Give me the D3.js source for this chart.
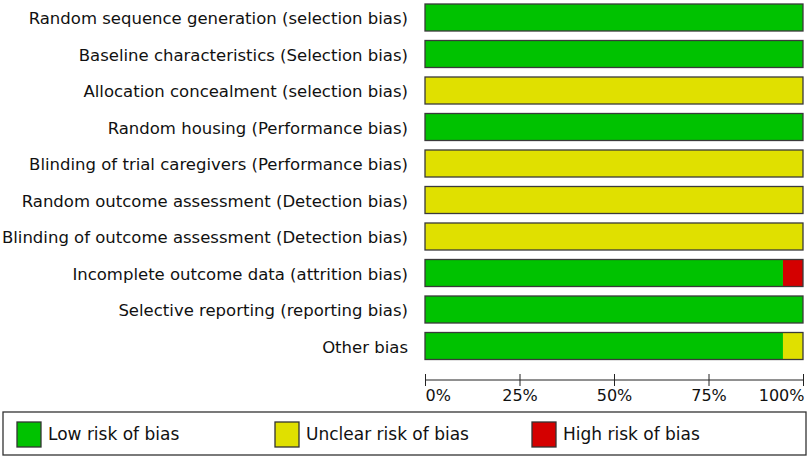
<!DOCTYPE html>
<html>
<head>
<meta charset="utf-8">
<script src="https://cdn.jsdelivr.net/npm/d3@7"></script>
<style>
  body { margin: 0; background: #fff; }
  text { font-family: "DejaVu Sans", sans-serif; fill: #111; }
</style>
</head>
<body>
<svg></svg>
<script>
const categories = [
  'Random sequence generation (selection bias)',
  'Baseline characteristics (Selection bias)',
  'Allocation concealment (selection bias)',
  'Random housing (Performance bias)',
  'Blinding of trial caregivers (Performance bias)',
  'Random outcome assessment (Detection bias)',
  'Blinding of outcome assessment (Detection bias)',
  'Incomplete outcome data (attrition bias)',
  'Selective reporting (reporting bias)',
  'Other bias'
];
const lowRisk     = [100, 100, 0, 100, 0, 0, 0, 94.7, 100, 94.7];
const unclearRisk = [0, 0, 100, 0, 100, 100, 100, 0, 0, 5.3];
const highRisk    = [0, 0, 0, 0, 0, 0, 0, 5.3, 0, 0];
const tickValues  = [0, 25, 50, 75, 100];
const legendNames = ['Low risk of bias', 'Unclear risk of bias', 'High risk of bias'];

const run = () => {
  const width = 809, height = 460;
  const svg = d3.select('svg').attr('width', width).attr('height', height);

  const colors = ['#00c200', '#e0e000', '#d40000'];
  const series = [lowRisk, unclearRisk, highRisk];

  const x = d3.scaleLinear().domain([0, 100]).range([425, 803]);
  const y = d3.scaleBand()
    .domain(categories)
    .range([-0.75, 364.25])
    .paddingInner(0.26)
    .paddingOuter(0.13);

  // stacked segments per row
  const rows = categories.map((c, i) => {
    let acc = 0;
    return series.map((s, k) => {
      const seg = { cat: c, k, x0: acc, x1: acc + s[i] };
      acc += s[i];
      return seg;
    }).filter(d => d.x1 > d.x0);
  });

  const g = svg.append('g');
  const rowG = g.selectAll('g.row')
    .data(rows)
    .enter()
    .append('g')
    .attr('class', 'row');

  rowG.selectAll('rect')
    .data(d => d)
    .enter()
    .append('rect')
    .attr('x', d => x(d.x0))
    .attr('y', d => y(d.cat))
    .attr('width', d => x(d.x1) - x(d.x0))
    .attr('height', y.bandwidth())
    .attr('fill', d => colors[d.k]);

  // outline around each bar
  g.selectAll('rect.outline')
    .data(categories)
    .enter()
    .append('rect')
    .attr('class', 'outline')
    .attr('x', x(0))
    .attr('y', d => y(d))
    .attr('width', x(100) - x(0))
    .attr('height', y.bandwidth())
    .attr('fill', 'none')
    .attr('stroke', '#3a3a3a')
    .attr('stroke-width', 1.3);

  // category labels
  g.selectAll('text.cat')
    .data(categories)
    .enter()
    .append('text')
    .attr('class', 'cat')
    .attr('x', 408)
    .attr('y', d => y(d) + y.bandwidth() / 2)
    .attr('dy', '0.42em')
    .attr('text-anchor', 'end')
    .style('font-size', '16.5px')
    .text(d => d);

  // x axis
  const axis = svg.append('g')
    .attr('transform', 'translate(0,380)')
    .call(d3.axisBottom(x).tickValues(tickValues).tickSize(6).tickFormat(d => d + '%'));
  axis.select('.domain').attr('stroke', '#222').attr('d', `M${x(0)},0H${x(100)}`);
  axis.selectAll('.tick line').attr('stroke', '#222').attr('y1', -6).attr('y2', 6);
  axis.selectAll('.tick text')
    .attr('y', 10)
    .style('font-size', '16px')
    .style('font-family', '"DejaVu Sans", sans-serif')
    .attr('fill', '#111')
    .attr('text-anchor', (d, i) => i === 0 ? 'start' : (i === tickValues.length - 1 ? 'end' : 'middle'))
    .attr('dx', (d, i) => i === tickValues.length - 1 ? 1 : 0);

  // legend
  const legend = svg.append('g');
  legend.append('rect')
    .attr('x', 3).attr('y', 412)
    .attr('width', 803).attr('height', 43)
    .attr('fill', 'none')
    .attr('stroke', '#333')
    .attr('stroke-width', 1.3);

  const legendX = [17, 275, 532];
  const item = legend.selectAll('g.item')
    .data(legendNames)
    .enter()
    .append('g')
    .attr('class', 'item')
    .attr('transform', (d, i) => `translate(${legendX[i]},422)`);

  item.append('rect')
    .attr('width', 24).attr('height', 25)
    .attr('fill', (d, i) => colors[i])
    .attr('stroke', '#333')
    .attr('stroke-width', 1.3);

  item.append('text')
    .attr('x', 31)
    .attr('y', 12.5)
    .attr('dy', '0.35em')
    .style('font-size', '17px')
    .text(d => d);
};

window.app = { run };
window.app.run();
</script>
</body>
</html>
